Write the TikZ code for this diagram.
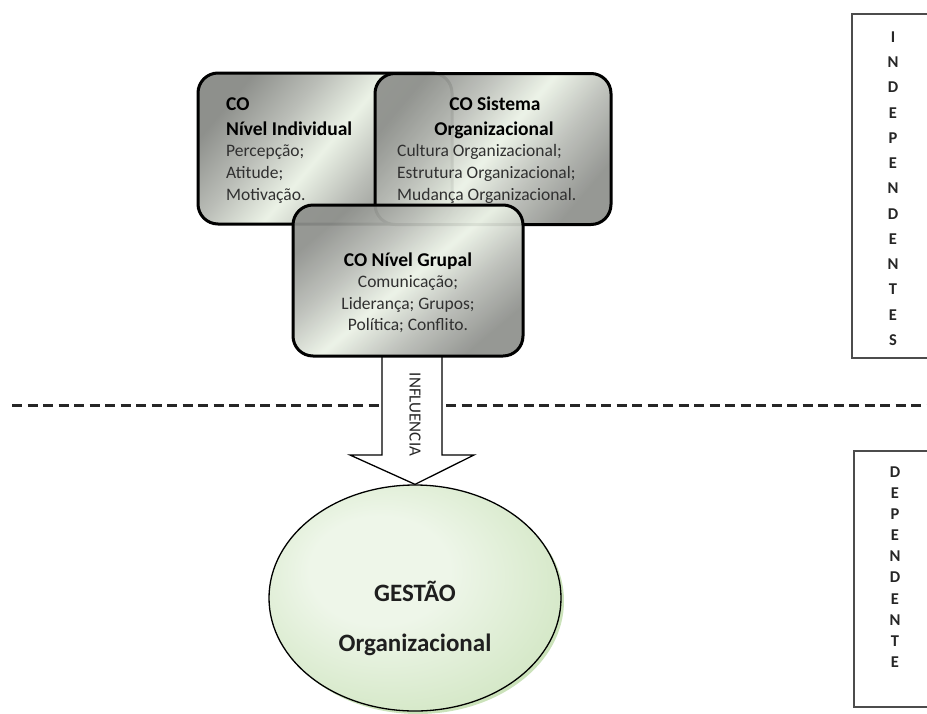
\documentclass[tikz,border=0pt]{standalone}
\usepackage{fontspec}
\setmainfont{Carlito}
\usetikzlibrary{shapes.geometric,shadows}

\definecolor{mdark}{HTML}{8E908C}
\definecolor{mmid}{HTML}{BABDB7}
\definecolor{mlight}{HTML}{EBF2E6}
\definecolor{gfill}{HTML}{B5D69D}
\definecolor{glight}{HTML}{EEF6E9}
\definecolor{txt}{HTML}{303030}

\pgfdeclarehorizontalshading{metal}{100bp}{color(0bp)=(mdark); color(25bp)=(mdark); color(38bp)=(mmid); color(50bp)=(mlight); color(62bp)=(mmid); color(75bp)=(mdark); color(100bp)=(mdark)}
\pgfdeclareradialshading{gball}{\pgfpoint{-8bp}{8bp}}{color(0bp)=(glight); color(12bp)=(glight); color(30bp)=(glight!55!gfill); color(50bp)=(gfill)}

\begin{document}
\begin{tikzpicture}[x=1pt,y=-1pt,
  metalbox/.style={draw=black, line width=3pt, rounded corners=20pt, shading=metal, shading angle=-40, inner sep=0pt},
  headtxt/.style={font=\bfseries\fontsize{19.5}{24}\selectfont, text=black, inner sep=0pt},
  bodytxt/.style={font=\fontsize{17.5}{21.5}\selectfont, text=txt, inner sep=0pt},
  sidebox/.style={draw=black!70, line width=1.3pt, inner sep=0pt},
  sidetxt/.style={font=\bfseries\fontsize{16.5}{25.25}\selectfont, text=black!85, align=center, inner sep=0pt},
  bigtxt/.style={font=\bfseries\fontsize{25}{30}\selectfont, text=black!88, inner sep=0pt},
]
\useasboundingbox (0,0) rectangle (927,713);
\clip (0,0) rectangle (927,713);

% dashed separator
\coordinate (dl) at (12,405);
\coordinate (dr) at (927,405);
\draw[dash pattern=on 10pt off 5.5pt, line width=3pt, black!85] (dl) -- (dr);

% side boxes
\node[sidebox, minimum width=90pt, minimum height=344pt] (ind) at (897,186) {};
\node[sidetxt] (indt) at (893,188.5) {I\\N\\D\\E\\P\\E\\N\\D\\E\\N\\T\\E\\S};
\node[sidebox, minimum width=88pt, minimum height=256pt] (dep) at (898,579) {};
\node[sidetxt, font=\bfseries\fontsize{16.5}{21.1}\selectfont] (dept) at (895,567) {D\\E\\P\\E\\N\\D\\E\\N\\T\\E};

% ellipse
\node[ellipse, draw=black, line width=1.3pt, minimum width=292pt, minimum height=226pt, shading=gball,
  drop shadow={shadow xshift=3pt, shadow yshift=-3pt, fill=gfill, opacity=.7}] (ge) at (415,598) {};
\node[bigtxt, anchor=base] (gt1) at (415,601.5) {GESTÃO};
\node[bigtxt, anchor=base] (gt2) at (415,651.5) {Organizacional};

% box 1
\node[metalbox, minimum width=254pt, minimum height=151pt] (b1) at (325,148.5) {};
% box 2
\node[metalbox, fill opacity=.93, minimum width=236pt, minimum height=151pt] (b2) at (493,149) {};

% arrow
\coordinate (atip) at (ge.north);
\draw[fill=white, line width=1.3pt, line join=miter]
  (382,356) -- (382,455) -- (350,455) -- (atip) -- (474,455) -- (442,455) -- (442,356);
\node[font=\fontsize{17}{20}\selectfont, text=black!85, rotate=-90, inner sep=0pt] (infl) at (415,414.5) {INFLUENCIA};

% box 3
\node[metalbox, fill opacity=.93, shading angle=-50, minimum width=230pt, minimum height=151pt] (b3) at (408,280.5) {};

% box 1 text
\node[headtxt, anchor=base west] (t11) at (226,110) {CO};
\node[headtxt, anchor=base west] (t12) at (226,135) {Nível Individual};
\node[bodytxt, anchor=base west] (t13) at (226,156.7) {Percepção;};
\node[bodytxt, anchor=base west] (t14) at (226,178.3) {Atitude;};
\node[bodytxt, anchor=base west] (t15) at (226,200) {Motivação.};

% box 2 text
\node[headtxt, anchor=base] (t21) at (495,110) {CO Sistema};
\node[headtxt, anchor=base] (t22) at (494,135) {Organizacional};
\node[bodytxt, anchor=base west] (t23) at (397,156.7) {Cultura Organizacional;};
\node[bodytxt, anchor=base west] (t24) at (397,178.3) {Estrutura Organizacional;};
\node[bodytxt, anchor=base west] (t25) at (397,200) {Mudança Organizacional.};

% box 3 text
\node[headtxt, anchor=base] (t31) at (408,266) {CO Nível Grupal};
\node[bodytxt, anchor=base] (t32) at (408,287.5) {Comunicação;};
\node[bodytxt, anchor=base] (t33) at (408,309) {Liderança; Grupos;};
\node[bodytxt, anchor=base] (t34) at (408,330.5) {Política; Conflito.};
\end{tikzpicture}
\end{document}
